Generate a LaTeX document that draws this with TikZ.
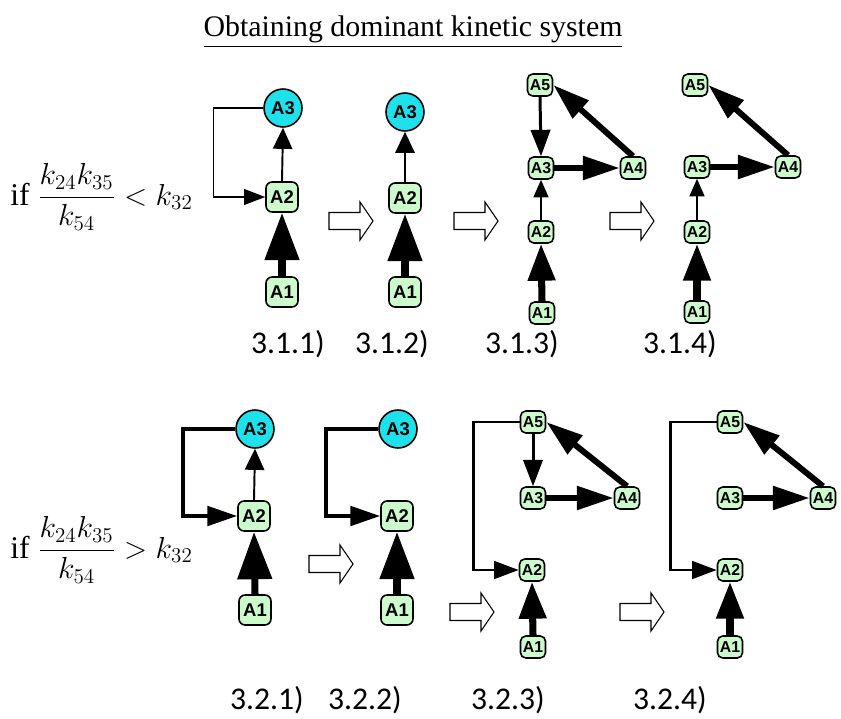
\documentclass[tikz,border=0pt]{standalone}
\usepackage{fontspec}
\setmainfont{Liberation Serif}
\setsansfont{Liberation Sans}
\newfontfamily\calib{Carlito}
\usetikzlibrary{arrows.meta,shapes,positioning}
\definecolor{boxgreen}{RGB}{204,250,204}
\definecolor{circcyan}{RGB}{30,225,235}

\begin{document}
\begin{tikzpicture}[x=0.02cm,y=-0.02cm,
  hollow/.pic={\draw[line width=0.6pt,fill=white] (-22,-8.5) -- (9,-8.5) -- (9,-19) -- (22,0) -- (9,19) -- (9,8.5) -- (-22,8.5) -- cycle;}]
\useasboundingbox (0,0) rectangle (841,719);
\begin{scope}
\tikzstyle{big}=[draw, line width=0.9pt, rectangle, rounded corners=3.5pt, fill=boxgreen, minimum width=0.64cm, minimum height=0.6cm, inner sep=0pt, font=\sffamily\bfseries\fontsize{10.5}{12}\selectfont]
\tikzstyle{small}=[big, minimum width=0.5cm, minimum height=0.44cm, rounded corners=3pt, font=\sffamily\bfseries\fontsize{9}{10}\selectfont]
\tikzstyle{circ}=[draw, line width=0.9pt, circle, fill=circcyan, minimum size=0.76cm, inner sep=0pt, font=\sffamily\bfseries\fontsize{10.5}{12}\selectfont]
\tikzstyle{lab}=[font=\calib\fontsize{18}{21}\selectfont]
\tikzstyle{cond}=[anchor=west, inner sep=0pt, font=\fontsize{18}{22}\selectfont]
\tikzstyle{thinarr}=[line width=1.1pt, -{Triangle[length=12pt,width=11pt]}]
\tikzstyle{thinarr2}=[line width=1.1pt, -{Triangle[length=10pt,width=8.5pt]}]
\tikzstyle{thickarr}=[line width=4pt, -{Triangle[length=27pt,width=19pt]}]
\tikzstyle{thickarr2}=[line width=4pt, -{Triangle[length=21pt,width=15pt]}]
\tikzstyle{fatarr}=[line width=3.4pt, -{Triangle[length=21pt,width=13pt]}]
\tikzstyle{medarr}=[line width=1.7pt, -{Triangle[length=15pt,width=11pt]}]
\tikzstyle{fbthin}=[line width=0.8pt, -{Triangle[length=12pt,width=9pt]}]
\tikzstyle{fbthick}=[line width=2.3pt, -{Triangle[length=17pt,width=11pt]}]
\tikzstyle{fbmed}=[line width=1.7pt, -{Triangle[length=14pt,width=10pt]}]

% title and conditions
\node[anchor=base, font=\fontsize{17}{20}\selectfont] (title) at (413,37) {\underline{Obtaining dominant kinetic system}};
\node[cond] (c1) at (10,197) {if $\displaystyle\frac{k_{24}k_{35}}{k_{54}} < k_{32}$};
\node[cond] (c2) at (10,550) {if $\displaystyle\frac{k_{24}k_{35}}{k_{54}} > k_{32}$};

% 3.1.1
\node[circ] (t1a3) at (283,108) {A3};
\node[big] (t1a2) at (282,197) {A2};
\node[big] (t1a1) at (282,292) {A1};
\draw[thinarr] (t1a2.north) -- (t1a3.south);
\draw[thickarr] (t1a1.north) -- (t1a2.south);
\draw[fbthin] (t1a3.west) -- ++(-50,0) |- (t1a2.west);
\pic at (351,221) {hollow};

% 3.1.2
\node[circ] (t2a3) at (405,112) {A3};
\node[big] (t2a2) at (405,198) {A2};
\node[big] (t2a1) at (405,292) {A1};
\draw[thinarr] (t2a2.north) -- (t2a3.south);
\draw[thickarr] (t2a1.north) -- (t2a2.south);
\pic at (476,221) {hollow};

% 3.1.3
\node[small] (t3a5) at (540,85) {A5};
\node[small] (t3a3) at (541,168) {A3};
\node[small] (t3a4) at (633,168) {A4};
\node[small] (t3a2) at (541,232) {A2};
\node[small] (t3a1) at (542,313) {A1};
\draw[medarr] (t3a5.south) -- (t3a3.north);
\draw[fatarr] (t3a3.east) -- (t3a4.west);
\draw[fatarr] (t3a4.north) -- (t3a5.east);
\draw[thinarr2] (t3a2.north) -- (t3a3.south);
\draw[thickarr2] (t3a1.north) -- (t3a2.south);
\pic at (632,221) {hollow};

% 3.1.4
\node[small] (t4a5) at (695,85) {A5};
\node[small] (t4a3) at (697,167) {A3};
\node[small] (t4a4) at (788,167) {A4};
\node[small] (t4a2) at (697,232) {A2};
\node[small] (t4a1) at (697,312) {A1};
\draw[fatarr] (t4a3.east) -- (t4a4.west);
\draw[fatarr] (t4a4.north) -- (t4a5.east);
\draw[thinarr2] (t4a2.north) -- (t4a3.south);
\draw[thickarr2] (t4a1.north) -- (t4a2.south);

\node[lab] (l11) at (288,344) {3.1.1)};
\node[lab] (l12) at (392,344) {3.1.2)};
\node[lab] (l13) at (522,344) {3.1.3)};
\node[lab] (l14) at (680,344) {3.1.4)};

% 3.2.1
\node[circ] (b1a3) at (255,429) {A3};
\node[big] (b1a2) at (254,516) {A2};
\node[big] (b1a1) at (255,610) {A1};
\draw[thinarr] (b1a2.north) -- (b1a3.south);
\draw[thickarr] (b1a1.north) -- (b1a2.south);
\draw[fbthick] (b1a3.west) -- ++(-52,0) |- (b1a2.west);
\pic at (331,564) {hollow};

% 3.2.2
\node[circ] (b2a3) at (398,429) {A3};
\node[big] (b2a2) at (397,516) {A2};
\node[big] (b2a1) at (397,610) {A1};
\draw[thickarr] (b2a1.north) -- (b2a2.south);
\draw[fbthick] (b2a3.west) -- ++(-52,0) |- (b2a2.west);
\pic at (472,612) {hollow};

% 3.2.3
\node[small] (b3a5) at (533,422) {A5};
\node[small] (b3a3) at (533,498) {A3};
\node[small] (b3a4) at (627,498) {A4};
\node[small] (b3a2) at (532,570) {A2};
\node[small] (b3a1) at (533,647) {A1};
\draw[medarr] (b3a5.south) -- (b3a3.north);
\draw[fatarr] (b3a3.east) -- (b3a4.west);
\draw[fatarr] (b3a4.north) -- (b3a5.east);
\draw[thickarr2] (b3a1.north) -- (b3a2.south);
\draw[fbmed] (b3a5.west) -- ++(-46,0) |- (b3a2.west);
\pic at (642,612) {hollow};

% 3.2.4
\node[small] (b4a5) at (730,422) {A5};
\node[small] (b4a3) at (730,498) {A3};
\node[small] (b4a4) at (823,498) {A4};
\node[small] (b4a2) at (730,570) {A2};
\node[small] (b4a1) at (730,647) {A1};
\draw[fatarr] (b4a3.east) -- (b4a4.west);
\draw[fatarr] (b4a4.north) -- (b4a5.east);
\draw[thickarr2] (b4a1.north) -- (b4a2.south);
\draw[fbmed] (b4a5.west) -- ++(-46,0) |- (b4a2.west);

\node[lab] (l21) at (267,700) {3.2.1)};
\node[lab] (l22) at (365,700) {3.2.2)};
\node[lab] (l23) at (508,700) {3.2.3)};
\node[lab] (l24) at (670,700) {3.2.4)};
\end{scope}
\end{tikzpicture}
\end{document}
